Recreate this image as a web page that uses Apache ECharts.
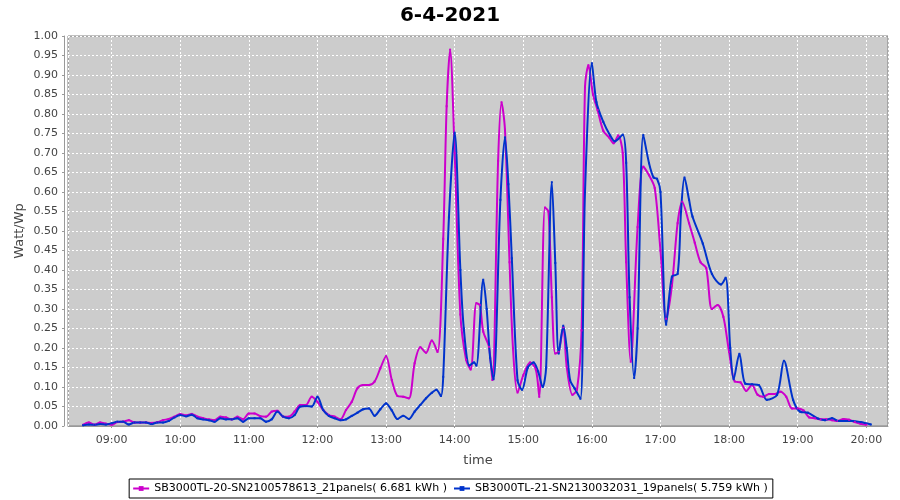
<!DOCTYPE html>
<html>
<head>
<meta charset="utf-8">
<script src="https://cdn.jsdelivr.net/npm/echarts@6/dist/echarts.min.js"></script>
<style>
html,body{margin:0;padding:0;background:#fff;}
#chart{width:900px;height:500px;}
</style>
</head>
<body>
<div id="chart"></div>
<script>
const chartTitle = '6-4-2021';
const seriesNames = [
  'SB3000TL-20-SN2100578613_21panels( 6.681 kWh )',
  'SB3000TL-21-SN2130032031_19panels( 5.759 kWh )'
];

const pinkTimes = ['08:35','08:40','08:45','08:50','08:55','09:00','09:05','09:10','09:15','09:20','09:25','09:30','09:35','09:40','09:45','09:50','09:55',
'10:00','10:05','10:10','10:15','10:20','10:25','10:30','10:35','10:40','10:45','10:50','10:55',
'11:00','11:05','11:10','11:15','11:20','11:25','11:30','11:35','11:40','11:45','11:50','11:55',
'12:00','12:05','12:10','12:15','12:20','12:25','12:30','12:35','12:40','12:45','12:50','12:55',
'13:00','13:05','13:10','13:15','13:20','13:25','13:30','13:35','13:40','13:45','13:50','13:53','13:56',
'14:00','14:05','14:10','14:14','14:19','14:22','14:25','14:30','14:33','14:38','14:41','14:44','14:48','14:51','14:55',
'15:00','15:06','15:11','15:14','15:19','15:22','15:25','15:28','15:31','15:35','15:38','15:43','15:47','15:51','15:54','15:57',
'16:01','16:05','16:10','16:15','16:19','16:23','16:27','16:30','16:34','16:40','16:45','16:50','16:55',
'17:00','17:05','17:10','17:15','17:19','17:25','17:30','17:35','17:40','17:45','17:50','17:55',
'18:00','18:05','18:10','18:15','18:20','18:25','18:30','18:35','18:40','18:45','18:50','18:55',
'19:00','19:05','19:10','19:15','19:20','19:25','19:30','19:35','19:40','19:45','19:50','19:55','20:00'];
const pinkValues = [0.003,0.009,0.003,0.009,0.006,0.003,0.010,0.011,0.015,0.009,0.009,0.009,0.008,0.010,0.015,0.018,0.024,
0.031,0.027,0.031,0.024,0.020,0.017,0.015,0.024,0.022,0.017,0.024,0.017,
0.032,0.032,0.025,0.024,0.037,0.039,0.024,0.024,0.037,0.054,0.054,0.075,
0.062,0.041,0.028,0.024,0.017,0.041,0.062,0.097,0.105,0.105,0.114,0.148,
0.179,0.118,0.077,0.075,0.071,0.161,0.202,0.188,0.219,0.190,0.480,0.820,0.965,
0.700,0.286,0.170,0.145,0.315,0.310,0.242,0.203,0.118,0.680,0.830,0.760,0.420,0.200,0.086,
0.130,0.163,0.145,0.075,0.560,0.550,0.330,0.186,0.190,0.253,0.152,0.080,0.093,0.245,0.870,0.925,
0.850,0.810,0.757,0.740,0.725,0.745,0.700,0.420,0.165,0.510,0.665,0.643,0.610,
0.450,0.275,0.360,0.520,0.575,0.520,0.470,0.420,0.405,0.300,0.310,0.280,
0.190,0.114,0.112,0.090,0.105,0.080,0.075,0.082,0.082,0.088,0.075,0.045,
0.045,0.040,0.022,0.020,0.017,0.017,0.015,0.013,0.018,0.016,0.010,0.006,0.003];

const blueTimes = ['08:35','08:40','08:45','08:50','08:55','09:00','09:05','09:10','09:15','09:20','09:25','09:30','09:35','09:40','09:45','09:50','09:55',
'10:00','10:05','10:10','10:15','10:20','10:25','10:30','10:35','10:40','10:45','10:50','10:55',
'11:00','11:05','11:10','11:15','11:20','11:25','11:30','11:35','11:40','11:45','11:50','11:55',
'12:00','12:05','12:10','12:15','12:20','12:25','12:30','12:35','12:40','12:45','12:50','12:55',
'13:00','13:05','13:10','13:15','13:20','13:25','13:30','13:35','13:40','13:44','13:48','13:50','13:55',
'14:00','14:05','14:08','14:13','14:17','14:19','14:25','14:28','14:31','14:34','14:40','14:44','14:47','14:50','14:55','14:59',
'15:04','15:09','15:13','15:17','15:20','15:25','15:28','15:31','15:35','15:38','15:41','15:45','15:50','15:54',
'16:00','16:04','16:10','16:16','16:20','16:27','16:30','16:33','16:37','16:40','16:45','16:50','16:54','16:57',
'17:00','17:05','17:10','17:15','17:18','17:21','17:25','17:28','17:37','17:45','17:53','17:57',
'18:01','18:04','18:09','18:14','18:20','18:26','18:33','18:42','18:48','18:56',
'19:02','19:09','19:18','19:24','19:30','19:36','19:48','19:55','20:04'];
const blueValues = [0.002,0.004,0.003,0.005,0.004,0.007,0.011,0.011,0.004,0.009,0.009,0.009,0.005,0.009,0.009,0.013,0.022,
0.028,0.025,0.029,0.020,0.017,0.015,0.011,0.020,0.017,0.017,0.020,0.011,
0.020,0.020,0.020,0.011,0.017,0.037,0.024,0.020,0.028,0.050,0.051,0.050,
0.075,0.041,0.026,0.020,0.015,0.017,0.026,0.034,0.043,0.045,0.026,0.043,
0.058,0.040,0.018,0.026,0.018,0.037,0.054,0.071,0.085,0.093,0.077,0.126,0.535,
0.752,0.400,0.250,0.155,0.163,0.155,0.375,0.300,0.175,0.120,0.580,0.740,0.620,0.430,0.117,0.093,
0.150,0.163,0.140,0.100,0.150,0.625,0.418,0.186,0.257,0.200,0.117,0.096,0.070,0.600,
0.930,0.830,0.780,0.745,0.730,0.747,0.675,0.330,0.123,0.250,0.746,0.674,0.637,0.634,
0.600,0.260,0.383,0.390,0.550,0.637,0.580,0.537,0.468,0.390,0.363,0.380,
0.200,0.120,0.185,0.109,0.107,0.105,0.067,0.080,0.167,0.067,
0.037,0.034,0.019,0.015,0.020,0.013,0.013,0.010,0.004];

const yTicks = { min: 0, max: 1, step: 0.05 };

function toMs(t, s) {
  const p = t.split(':');
  return new Date(2021, 3, 6, +p[0], +p[1], s || 0).getTime();
}
function pad(n){ return (n < 10 ? '0' : '') + n; }

const pinkData = pinkTimes.map((t, i) => [toMs(t), pinkValues[i]]);
const blueData = blueTimes.map((t, i) => [toMs(t), blueValues[i]]);

const font = 'DejaVu Sans';
const chart = echarts.init(document.getElementById('chart'), null, { renderer: 'canvas' });
chart.setOption({
  animation: false,
  backgroundColor: '#ffffff',
  title: {
    text: chartTitle, left: 'center', top: 1,
    textStyle: { fontFamily: font, fontSize: 20, fontWeight: 'bold', color: '#000' }
  },
  legend: {
    bottom: 2, left: 'center',
    data: seriesNames,
    borderColor: '#000', borderWidth: 1, borderRadius: 0,
    padding: [4, 5, 4, 3],
    itemGap: 6, itemWidth: 16, itemHeight: 6,
    textStyle: { fontFamily: font, fontSize: 11, color: '#000' }
  },
  grid: {
    left: 68, right: 12, top: 36, bottom: 74,
    show: true, backgroundColor: '#cccccc', borderColor: '#808080', borderWidth: 1,
    containLabel: false
  },
  xAxis: {
    type: 'time',
    min: toMs('08:21', 50), max: toMs('20:19', 0),
    minInterval: 3600000, maxInterval: 3600000, splitNumber: 12,
    offset: 4,
    name: 'time', nameLocation: 'middle', nameGap: 24, nameMoveOverlap: false,
    nameTextStyle: { fontFamily: font, fontSize: 13, color: '#444' },
    axisLine: { show: true, lineStyle: { color: '#999', width: 1 } },
    axisTick: { show: true, length: 2, lineStyle: { color: '#999' } },
    axisLabel: {
      fontFamily: font, fontSize: 11, color: '#444', margin: 5,
      formatter: function (v) { const d = new Date(v); return pad(d.getHours()) + ':' + pad(d.getMinutes()); }
    },
    splitLine: { show: true, lineStyle: { color: '#ffffff', type: [2, 2], width: 1 } }
  },
  yAxis: {
    type: 'value', min: yTicks.min, max: yTicks.max, interval: yTicks.step,
    offset: 4,
    name: 'Watt/Wp', nameLocation: 'middle', nameGap: 38, nameMoveOverlap: false,
    nameTextStyle: { fontFamily: font, fontSize: 13, color: '#444' },
    axisLine: { show: true, lineStyle: { color: '#999', width: 1 } },
    axisTick: { show: true, length: 2, lineStyle: { color: '#999' } },
    axisLabel: {
      fontFamily: font, fontSize: 11, color: '#444', margin: 6,
      formatter: function (v) { return v.toFixed(2); }
    },
    splitLine: { show: true, lineStyle: { color: '#ffffff', type: [2, 2], width: 1 } }
  },
  series: [
    {
      name: seriesNames[0], type: 'line', data: pinkData,
      smooth: 0.3, showSymbol: true, symbol: 'rect', symbolSize: 2,
      itemStyle: { color: '#cc00cc' },
      lineStyle: { color: '#cc00cc', width: 2 }
    },
    {
      name: seriesNames[1], type: 'line', data: blueData,
      smooth: 0.3, showSymbol: true, symbol: 'rect', symbolSize: 2,
      itemStyle: { color: '#0033cc' },
      lineStyle: { color: '#0033cc', width: 2 }
    }
  ]
});
</script>
</body>
</html>
